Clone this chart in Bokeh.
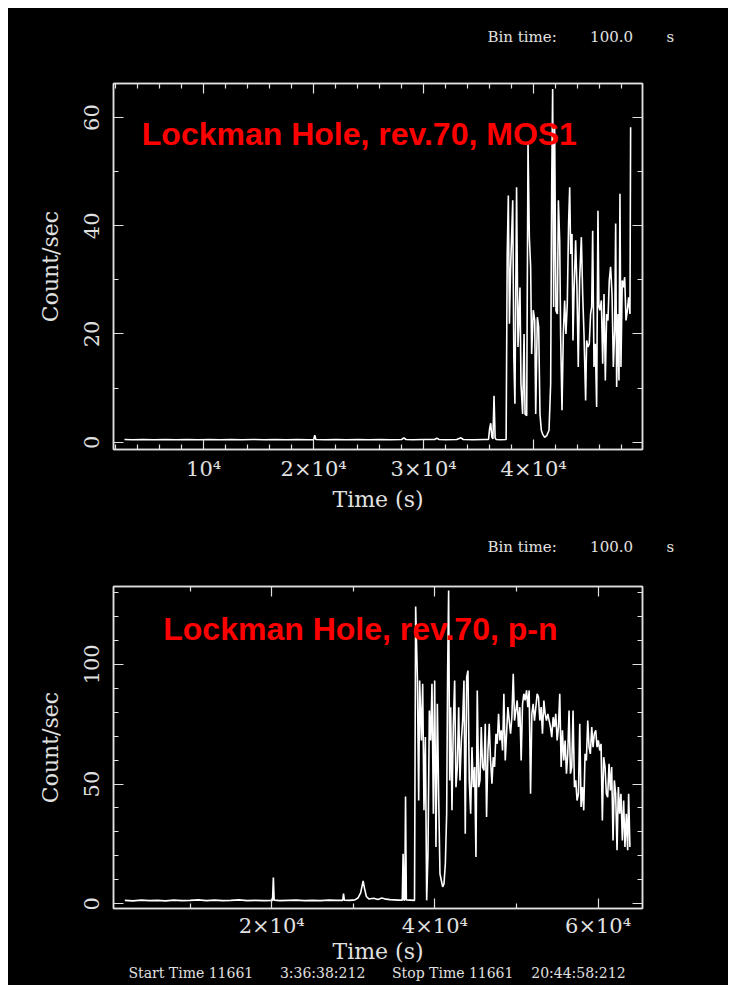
from bokeh.plotting import figure
from bokeh.models import Range1d, LinearAxis, FixedTicker, Label, Title
from bokeh.layouts import column
from bokeh.embed import file_html
from bokeh.resources import INLINE

# ---------------- data ----------------
mos1_time = [2800, 3500, 4500, 5500, 6500, 7500, 8500, 9500, 10500, 11500,
             12500, 13500, 14500, 15500, 16500, 17500, 18500, 19500, 20000, 20100,
             20200, 21000, 22000, 23000, 24000, 25000, 26000, 27000, 28000, 28200,
             28400, 29000, 30000, 31000, 31200, 31400, 32000, 33000, 33400, 33600,
             34500, 35500, 35900, 36000, 36100, 36200, 36300, 36400, 36500, 36600,
             37000, 37500,
             37600, 37700, 37800, 37900, 38100, 38200, 38300, 38450, 38580, 38760,
             38850, 39000, 39130, 39220, 39370, 39490, 39610, 39730, 39820, 39970,
             40100, 40190, 40340, 40460, 40580, 40700, 40820, 41000, 41190, 41400,
             41550, 41640, 41730, 41820, 41910, 42030, 42160, 42250, 42370, 42460,
             42580, 42700, 42820, 42940, 43060, 43180, 43280, 43370, 43490, 43580,
             43670, 43820, 43940, 44060, 44180, 44340, 44460, 44580, 44730, 44820,
             44940, 45060, 45180, 45280, 45370, 45490, 45610, 45730, 45850, 45940,
             46030, 46160, 46280, 46400, 46520, 46640, 46760, 46880, 47000, 47130,
             47250, 47370, 47460, 47550, 47670, 47760, 47850, 47940, 48060, 48160,
             48280, 48400, 48520, 48640, 48760, 48820]
mos1_rate = [0.5, 0.45, 0.5, 0.45, 0.5, 0.45, 0.5, 0.45, 0.5, 0.45,
             0.5, 0.45, 0.5, 0.45, 0.5, 0.45, 0.5, 0.45, 0.45, 1.3,
             0.5, 0.45, 0.5, 0.45, 0.5, 0.45, 0.5, 0.45, 0.5, 0.8,
             0.5, 0.45, 0.5, 0.5, 0.75, 0.5, 0.45, 0.5, 0.8, 0.5,
             0.45, 0.5, 0.5, 2.5, 3.5, 1.0, 0.6, 8.6, 0.8, 0.5,
             0.45, 0.5,
             34.8, 45.6, 21.9, 31.7, 44.7, 15.7, 7.1, 47.1, 17.6, 28.6,
             10.8, 5.2, 20.0, 5.2, 4.9, 55.2, 37.9, 32.4, 16.3, 24.4,
             22.5, 5.2, 23.1, 21.3, 5.2, 2.2, 1.5, 0.9, 1.2, 2.2,
             10.8, 46.5, 65.3, 25.0, 58.2, 24.3, 23.7, 44.7, 37.3, 19.4,
             5.9, 20.0, 26.2, 20.0, 25.6, 40.4, 47.1, 34.8, 38.5, 18.8,
             27.4, 37.3, 28.6, 13.9, 29.9, 37.9, 27.4, 20.0, 7.7, 18.8,
             17.6, 18.2, 23.7, 25.0, 39.1, 13.9, 18.2, 6.5, 42.8, 25.0,
             24.4, 26.2, 14.5, 27.4, 11.4, 23.7, 22.5, 29.9, 32.4, 27.4,
             13.9, 20.6, 40.4, 10.2, 23.7, 11.4, 45.9, 13.9, 29.9, 28.6,
             30.5, 22.5, 24.3, 26.8, 23.7, 58.2]

pn_time = [2000, 3000, 4000, 5000, 6000, 7000, 8000, 9000, 10000, 11000,
           12000, 13000, 14000, 15000, 16000, 17000, 18000, 19000, 20100, 20200,
           20300, 21000, 22000, 23000, 24000, 25000, 26000, 27000, 28000, 28700,
           28800, 28900, 29500, 30200, 30600, 30900, 31200, 31400, 31600, 31900,
           32500, 33000, 33500, 34000, 34500, 35000, 35500, 36000, 36100, 36200,
           36300, 36400, 36500, 37000, 37500,
           37640, 37850, 38010, 38130, 38340, 38500, 38660, 38830, 38990, 39150,
           39320, 39480, 39640, 39810, 39970, 40130, 40300, 40460, 40620, 40790,
           40950, 41110, 41280, 41440, 41560, 41680, 41810,
           41930, 42090, 42260, 42420, 42580, 42750, 42910, 43070, 43240, 43400,
           43560, 43720, 43890, 44050, 44210, 44380, 44540, 44700, 44870, 45030,
           45190, 45360, 45520, 45680, 45840, 46010, 46170, 46330, 46500, 46660,
           46820, 46990, 47150, 47310, 47480, 47640, 47800, 47960, 48130, 48290,
           48450, 48620, 48780, 48940, 49110, 49270, 49430, 49600, 49760, 49920,
           50080, 50250, 50410, 50570, 50740, 50900, 51060, 51230, 51390, 51550,
           51720, 51880, 52040, 52200, 52370, 52530, 52690, 52860, 53020, 53180,
           53350, 53510, 53670, 53840, 54000, 54160, 54320, 54490, 54650, 54810,
           54980, 55140, 55300, 55470, 55630, 55790, 55960, 56120, 56280, 56440,
           56610, 56770, 56930, 57100, 57260, 57420, 57590, 57750, 57910, 58080,
           58240, 58400, 58560, 58730, 58890, 59050, 59220, 59380, 59540, 59710,
           59870, 60030, 60200, 60360, 60520, 60680, 60850, 61010, 61170, 61340,
           61500, 61660, 61830, 61990, 62150, 62320, 62480, 62640, 62800, 62970,
           63130, 63290, 63460, 63620, 63740, 63900]
pn_rate = [1.4, 1.2, 1.5, 1.3, 1.4, 1.2, 1.5, 1.3, 1.4, 1.6,
           1.3, 1.5, 1.3, 1.4, 1.6, 1.3, 1.4, 1.3, 1.4, 10.9,
           1.5, 1.3, 1.4, 1.5, 1.3, 1.4, 1.3, 1.5, 1.4, 1.4,
           4.2, 1.5, 1.4, 1.6, 2.5, 4.5, 9.5, 6.0, 3.0, 2.0,
           2.3, 1.8, 2.4, 1.9, 1.7, 1.6, 1.5, 1.5, 20.9, 1.6,
           1.5, 44.8, 1.6, 1.5, 1.4,
           124.1, 94.6, 43.1, 93.2, 68.2, 91.9, 39.0, 69.6, 1.4, 20.9,
           80.7, 68.2, 91.9, 37.6, 93.2, 23.7, 83.5, 44.5, 12.5, 9.7,
           7.0, 8.3, 16.7, 37.6, 97.4, 130.8, 51.5,
           82.1, 39.0, 75.2, 93.2, 48.7, 57.1, 82.1, 51.5, 68.2, 76.5,
           93.2, 29.2, 94.6, 97.4, 51.5, 37.6, 65.4, 48.7, 57.1, 19.5,
           89.1, 48.7, 51.5, 73.8, 57.1, 55.7, 75.2, 36.2, 64.0, 75.2,
           59.8, 50.1, 61.2, 57.1, 71.0, 66.8, 79.3, 68.2, 72.4, 64.0,
           87.7, 59.8, 71.0, 82.1, 76.5, 71.0, 77.9, 96.0, 76.5, 80.7,
           84.9, 73.8, 82.1, 59.8, 83.5, 87.7, 84.9, 89.1, 82.1, 89.1,
           45.9, 79.3, 83.5, 76.5, 82.1, 87.7, 86.3, 76.5, 82.1, 71.0,
           84.9, 79.3, 76.5, 79.3, 76.5, 73.8, 69.6, 77.9, 73.8, 79.3,
           68.2, 73.8, 87.7, 57.1, 72.4, 59.8, 68.2, 54.3, 62.6, 80.7,
           54.3, 57.1, 80.7, 48.7, 51.5, 43.1, 45.9, 75.2, 40.4, 48.7,
           39.0, 62.6, 59.8, 76.5, 65.4, 62.6, 73.8, 65.4, 71.0, 72.4,
           65.4, 68.2, 64.0, 66.8, 34.8, 61.2, 57.1, 45.9, 44.5, 58.4,
           47.3, 57.1, 26.4, 51.5, 45.9, 22.3, 48.7, 37.6, 45.9, 26.4,
           43.1, 23.7, 37.6, 22.3, 45.9, 23.7]

mos1_xticks = [10000, 20000, 30000, 40000]
mos1_xtick_labels = ["10\u2074", "2\u00d710\u2074", "3\u00d710\u2074", "4\u00d710\u2074"]
mos1_xminor = [2000, 4000, 6000, 8000, 12000, 14000, 16000, 18000, 22000, 24000,
               26000, 28000, 32000, 34000, 36000, 38000, 42000, 44000, 46000, 48000]
mos1_yticks = [0, 20, 40, 60]
mos1_yminor = [10, 30, 50]

pn_xticks = [20000, 40000, 60000]
pn_xtick_labels = ["2\u00d710\u2074", "4\u00d710\u2074", "6\u00d710\u2074"]
pn_xminor = [10000, 30000, 50000]
pn_yticks = [0, 50, 100]
pn_yminor = [10, 20, 30, 40, 60, 70, 80, 90, 110, 120, 130]

NB = "\u00a0"
bin_text = "Bin time:" + NB * 7 + "100.0" + NB * 7 + "s"
times_text = ("Start Time 11661" + NB * 6 + "3:36:38:212" + NB * 6 +
              "Stop Time 11661" + NB * 4 + "20:44:58:212")

# ---------------- styling ----------------
FG = "#e0e0e0"
SERIF = "DejaVu Serif"


def style_axis(ax, ticks, minor, labels=None, show=True, parallel=False):
    ax.ticker = FixedTicker(ticks=ticks, minor_ticks=minor)
    ax.axis_line_color = FG
    ax.axis_line_width = 1.5
    ax.major_tick_line_color = FG
    ax.minor_tick_line_color = FG
    ax.major_tick_line_width = 1.2
    ax.minor_tick_line_width = 1.2
    ax.major_tick_in = 10
    ax.major_tick_out = 0
    ax.minor_tick_in = 5
    ax.minor_tick_out = 0
    ax.major_label_text_color = FG
    ax.major_label_text_font = SERIF
    ax.major_label_text_font_size = "21px"
    ax.axis_label_text_color = FG
    ax.axis_label_text_font = SERIF
    ax.axis_label_text_font_size = "22px"
    ax.axis_label_text_font_style = "normal"
    if show:
        if labels is not None:
            ax.major_label_overrides = {t: l for t, l in zip(ticks, labels)}
    else:
        ax.major_label_overrides = {t: "" for t in ticks}
    if parallel:
        ax.major_label_orientation = "parallel"


def make_panel(border_top, frame_h, border_bottom, xr, yr,
               xticks, xminor, xlabels, yticks, yminor,
               xl_standoff, xa_standoff):
    p = figure(frame_width=529, frame_height=frame_h,
               min_border_left=105, min_border_right=86,
               min_border_top=border_top, min_border_bottom=border_bottom,
               x_range=Range1d(*xr), y_range=Range1d(*yr),
               output_backend="svg", toolbar_location=None,
               background_fill_color="black", border_fill_color="black",
               outline_line_color=FG, outline_line_width=1.5)
    p.xgrid.visible = False
    p.ygrid.visible = False
    style_axis(p.xaxis[0], xticks, xminor, xlabels)
    style_axis(p.yaxis[0], yticks, yminor, parallel=True)
    p.xaxis[0].axis_label = "Time (s)"
    p.yaxis[0].axis_label = "Count/sec"
    p.xaxis[0].major_label_standoff = xl_standoff
    p.xaxis[0].axis_label_standoff = xa_standoff
    p.yaxis[0].major_label_standoff = 14
    p.yaxis[0].axis_label_standoff = 19
    top_ax = LinearAxis()
    right_ax = LinearAxis()
    style_axis(top_ax, xticks, xminor, show=False)
    style_axis(right_ax, yticks, yminor, show=False)
    p.add_layout(top_ax, "above")
    p.add_layout(right_ax, "right")
    return p


def make_title(text, size, offset, standoff):
    return Title(text=text, align="left", offset=offset, standoff=standoff,
                 text_color=FG, text_font=SERIF, text_font_size=size,
                 text_font_style="normal")


# top panel: MOS1
p1 = make_panel(75, 366, 71, (1800, 49900), (-1.35, 66.3),
                mos1_xticks, mos1_xminor, mos1_xtick_labels,
                mos1_yticks, mos1_yminor, 7, 3)
p1.line(mos1_time, mos1_rate, line_color="white", line_width=1.6)
p1.add_layout(Label(x=4372, y=57.05, text="Lockman Hole, rev.70, MOS1",
                    text_color="#ff0000", text_font="Liberation Sans",
                    text_font_size="32px", text_font_style="bold",
                    text_baseline="alphabetic"))
p1.add_layout(make_title(bin_text + "\n" + NB + "\n" + NB, "15px", 374, 3), "above")

# bottom panel: p-n
p2 = make_panel(66, 322, 77, (610, 65440), (-2.0, 132.5),
                pn_xticks, pn_xminor, pn_xtick_labels,
                pn_yticks, pn_yminor, 5, -2)
p2.line(pn_time, pn_rate, line_color="white", line_width=1.6)
p2.add_layout(Label(x=6710, y=114.8, text="Lockman Hole, rev.70, p-n",
                    text_color="#ff0000", text_font="Liberation Sans",
                    text_font_size="32px", text_font_style="bold",
                    text_baseline="alphabetic"))
p2.add_layout(make_title(bin_text + "\n" + NB, "15px", 374, 25), "above")
p2.add_layout(make_title(times_text, "14px", 15, -7), "below")

layout = column(p1, p2, spacing=0, margin=8,
                styles={"background-color": "black"})
open("out.html", "w").write(file_html(layout, INLINE))
